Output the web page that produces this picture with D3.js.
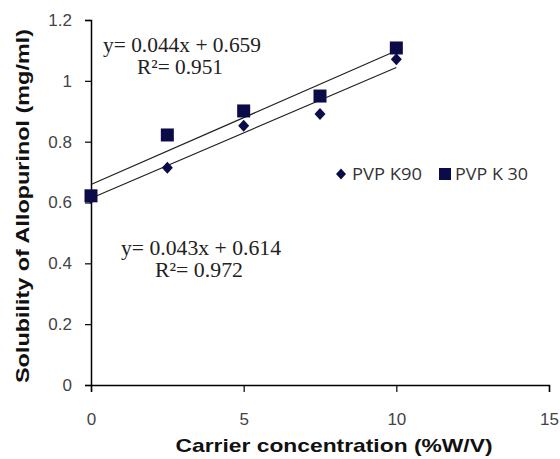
<!DOCTYPE html>
<html><head><meta charset="utf-8">
<script src="https://cdn.jsdelivr.net/npm/d3@7"></script>
<style>body{margin:0;background:#fff}svg{display:block}</style>
</head><body>
<svg id="c" width="560" height="459"></svg>
<script>
const concentrations = [0, 2.5, 5, 7.5, 10];
const pvpK90 = [0.615, 0.714, 0.852, 0.891, 1.071];
const pvpK30 = [0.622, 0.822, 0.901, 0.950, 1.108];
const seriesNames = ["PVP K90", "PVP K 30"];
const fitK30 = {slope: 0.044, intercept: 0.659, label: "y= 0.044x + 0.659", r2: "R²= 0.951"};
const fitK90 = {slope: 0.043, intercept: 0.614, label: "y= 0.043x + 0.614", r2: "R²= 0.972"};
const xTicks = [0, 5, 10, 15];
const yTicks = [0, 0.2, 0.4, 0.6, 0.8, 1, 1.2];

const svg = d3.select("#c");
const x = d3.scaleLinear().domain([0, 15]).range([91, 549]);
const y = d3.scaleLinear().domain([0, 1.2]).range([385, 20]);
const markColor = "#0b0b4a";
const sans = "'Liberation Sans', Arial, sans-serif";

// axes
const xa = svg.append("g").attr("transform", "translate(0,385)")
  .call(d3.axisBottom(x).tickValues(xTicks).tickSize(7).tickPadding(21).tickFormat(d3.format("d")));
const ya = svg.append("g").attr("transform", "translate(91,0)")
  .call(d3.axisLeft(y).tickValues(yTicks).tickSize(6).tickPadding(13).tickFormat(d => d === 0 || d === 1 ? d3.format("d")(d) : d3.format(".1f")(d)));
[xa, ya].forEach(a => {
  a.select(".domain").attr("stroke", "#000").attr("stroke-width", 1.5);
  a.selectAll(".tick line").attr("stroke", "#000").attr("stroke-width", 1.2);
  a.selectAll("text").attr("fill", "#444").style("font-family", sans).style("font-size", "17px");
});

// trendlines
[fitK30, fitK90].forEach(f => {
  svg.append("line")
    .attr("x1", x(0)).attr("y1", y(f.intercept))
    .attr("x2", x(10)).attr("y2", y(f.intercept + f.slope * 10))
    .attr("stroke", "#222").attr("stroke-width", 1.2);
});

// markers
const diamondPath = (w, h) => `M0,${-h/2}L${w/2},0L0,${h/2}L${-w/2},0Z`;
svg.append("g").selectAll("path").data(concentrations).join("path")
  .attr("d", diamondPath(11, 12))
  .attr("transform", (d, i) => `translate(${x(d)},${y(pvpK90[i])})`)
  .attr("fill", markColor);
svg.append("g").selectAll("rect").data(concentrations).join("rect")
  .attr("x", d => x(d) - 6.5).attr("y", (d, i) => y(pvpK30[i]) - 6.5)
  .attr("width", 13).attr("height", 13)
  .attr("fill", markColor);

// equations
const serif = "'Liberation Serif', 'Times New Roman', serif";
function eq(f, cx, y1, w1, cx2, w2) {
  svg.append("text").attr("x", cx).attr("y", y1).attr("text-anchor", "middle")
    .attr("textLength", w1).attr("lengthAdjust", "spacingAndGlyphs")
    .style("font-family", serif).style("font-size", "21px").attr("fill", "#222").text(f.label);
  svg.append("text").attr("x", cx2).attr("y", y1 + 22).attr("text-anchor", "middle")
    .attr("textLength", w2).attr("lengthAdjust", "spacingAndGlyphs")
    .style("font-family", serif).style("font-size", "21px").attr("fill", "#222").text(f.r2);
}
eq(fitK30, 182, 52, 158, 180, 86);
eq(fitK90, 201, 255, 160, 199, 88);

// legend
const lg = svg.append("g").style("font-family", "'Open Sans', 'DejaVu Sans', sans-serif").style("font-size", "16px");
lg.append("path").attr("d", diamondPath(10, 11)).attr("transform", "translate(341,174)").attr("fill", markColor);
lg.append("text").attr("x", 352).attr("y", 180).attr("fill", "#333")
  .attr("textLength", 70).attr("lengthAdjust", "spacingAndGlyphs").text(seriesNames[0]);
lg.append("rect").attr("x", 439).attr("y", 168).attr("width", 12).attr("height", 12).attr("fill", markColor);
lg.append("text").attr("x", 455).attr("y", 180).attr("fill", "#333")
  .attr("textLength", 73).attr("lengthAdjust", "spacingAndGlyphs").text(seriesNames[1]);

// axis titles
svg.append("text").attr("x", 334).attr("y", 452).attr("text-anchor", "middle")
  .attr("textLength", 317).attr("lengthAdjust", "spacingAndGlyphs")
  .style("font-family", sans).style("font-weight", "bold").style("font-size", "19px")
  .attr("fill", "#111").text("Carrier concentration (%W/V)");
svg.append("text").attr("transform", "translate(29,206) rotate(-90)").attr("text-anchor", "middle")
  .attr("textLength", 354).attr("lengthAdjust", "spacingAndGlyphs")
  .style("font-family", sans).style("font-weight", "bold").style("font-size", "18px")
  .attr("fill", "#111").text("Solubility of Allopurinol (mg/ml)");
</script>
</body></html>
